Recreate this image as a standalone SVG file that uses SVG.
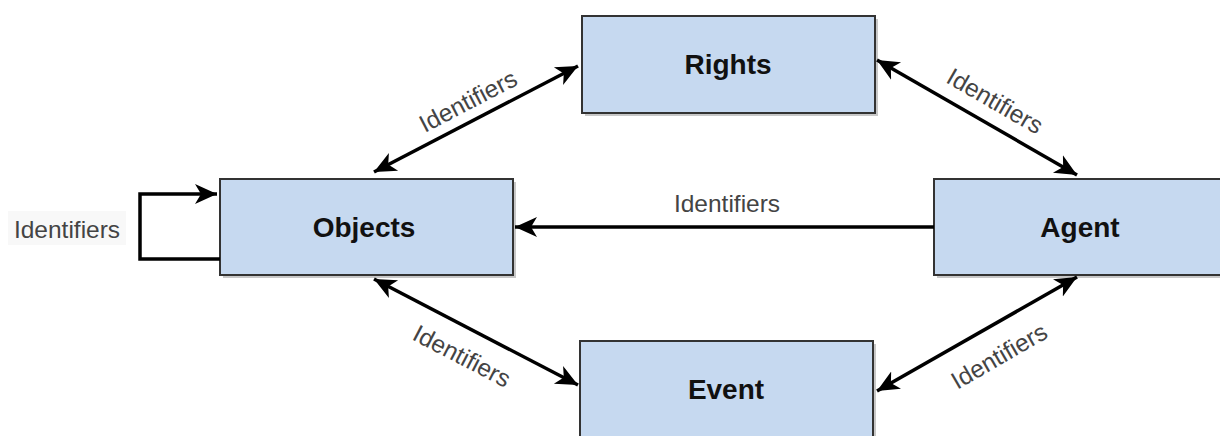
<svg xmlns="http://www.w3.org/2000/svg" width="1220" height="436" viewBox="0 0 1220 436">
<style>
.box{fill:#c6d9f0;stroke:#333;stroke-width:2}
.shadow{fill:#9a9a9a;opacity:0.55}
.nl{font-family:"Liberation Sans",Arial,sans-serif;font-weight:bold;font-size:28px;fill:#111;text-anchor:middle;dominant-baseline:central}
.el{font-family:"Liberation Sans",Arial,sans-serif;font-size:24.5px;fill:#444;text-anchor:middle;dominant-baseline:central}
.c{fill:none;stroke:#000;stroke-width:3.5}
</style>
<defs>
<marker id="a" markerUnits="userSpaceOnUse" markerWidth="24" markerHeight="22" refX="22" refY="11" orient="auto-start-reverse" viewBox="0 0 24 22">
<path d="M0,1 L22,11 L0,21 L6,11 z" fill="#000"/>
</marker>
</defs>
<rect width="1220" height="436" fill="#fff"/>
<g id="rights"><rect class="shadow" x="585" y="19" width="293" height="97"/><rect class="box" x="582" y="16" width="293" height="97"/><text class="nl" x="728" y="64">Rights</text></g>
<g id="objects"><rect class="shadow" x="223" y="182" width="293" height="96"/><rect class="box" x="220" y="179" width="293" height="96"/><text class="nl" x="364" y="227">Objects</text></g>
<g id="agent"><rect class="shadow" x="937" y="182" width="290" height="96"/><rect class="box" x="934" y="179" width="290" height="96"/><text class="nl" x="1080" y="227">Agent</text></g>
<g id="event"><rect class="shadow" x="583" y="344" width="293" height="96"/><rect class="box" x="580" y="341" width="293" height="100"/><text class="nl" x="726" y="389">Event</text></g>
<g id="connectors">
<line class="c" x1="374" y1="172" x2="578" y2="66" marker-start="url(#a)" marker-end="url(#a)"/>
<line class="c" x1="877" y1="60" x2="1077" y2="175" marker-start="url(#a)" marker-end="url(#a)"/>
<line class="c" x1="934" y1="227" x2="515" y2="227" marker-end="url(#a)"/>
<line class="c" x1="374" y1="279" x2="578" y2="385" marker-start="url(#a)" marker-end="url(#a)"/>
<line class="c" x1="1077" y1="277" x2="877" y2="391" marker-start="url(#a)" marker-end="url(#a)"/>
<polyline class="c" points="220,259 140,259 140,194 217,194" marker-end="url(#a)"/>
<rect x="8" y="211" width="118" height="34" fill="#f8f8f8"/>
<text class="el" x="67" y="229">Identifiers</text>
<text class="el" x="727" y="203">Identifiers</text>
<text class="el" transform="translate(468,101) rotate(-27.5)">Identifiers</text>
<text class="el" transform="translate(995,101) rotate(30)">Identifiers</text>
<text class="el" transform="translate(462,356) rotate(27.5)">Identifiers</text>
<text class="el" transform="translate(999,356) rotate(-30)">Identifiers</text>
</g>
</svg>
